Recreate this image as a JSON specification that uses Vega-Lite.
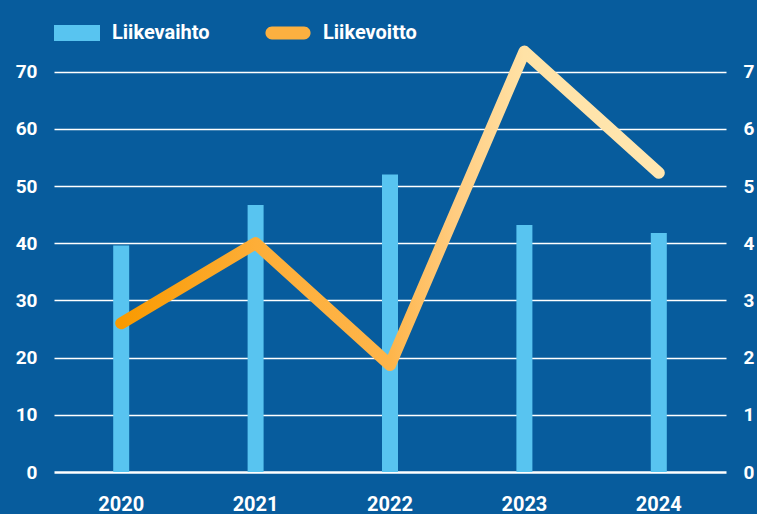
{
  "$schema": "https://vega.github.io/schema/vega-lite/v6.json",
  "autosize": {"type": "none"},
  "width": 672,
  "height": 429,
  "padding": {"left": 54, "top": 43, "right": 31, "bottom": 42},
  "background": "#075c9d",
  "config": {
    "view": {"stroke": null},
    "font": "Roboto",
    "axis": {"labelColor": "white", "labelFont": "Roboto", "labelFontWeight": "bold", "domain": false, "ticks": false, "title": null}
  },
  "data": {
    "values": [
      {"year": "2020", "liikevaihto": 39.6, "liikevoitto": 2.6},
      {"year": "2021", "liikevaihto": 46.7, "liikevoitto": 4.0},
      {"year": "2022", "liikevaihto": 52.0, "liikevoitto": 1.87},
      {"year": "2023", "liikevaihto": 43.2, "liikevoitto": 7.35},
      {"year": "2024", "liikevaihto": 41.8, "liikevoitto": 5.23}
    ]
  },
  "encoding": {
    "x": {
      "field": "year", "type": "ordinal",
      "scale": {"paddingInner": 0, "paddingOuter": 0},
      "axis": {"labelAngle": 0, "labelFontSize": 20, "labelPadding": 22, "grid": false}
    }
  },
  "layer": [
    {
      "mark": {"type": "bar", "width": 16},
      "encoding": {
        "y": {
          "field": "liikevaihto", "type": "quantitative",
          "scale": {"domain": [0, 75], "nice": false},
          "axis": {
            "orient": "left", "values": [0, 10, 20, 30, 40, 50, 60, 70],
            "labelFontSize": 19, "labelPadding": 17,
            "grid": true, "gridColor": "white",
            "gridWidth": {"condition": {"test": "datum.value === 0", "value": 2.5}, "value": 1.5}
          }
        },
        "color": {
          "datum": "Liikevaihto", "type": "nominal",
          "scale": {"domain": ["Liikevaihto", "Liikevoitto"], "range": ["#58c4f0", "#fcb040"]},
          "legend": {
            "orient": "none", "legendX": 0, "legendY": -33, "direction": "horizontal",
            "title": null,
            "labelColor": "white", "labelFont": "Roboto", "labelFontSize": 20, "labelFontWeight": "bold",
            "labelOffset": 12, "symbolSize": 2116, "columnPadding": 55, "symbolStrokeWidth": 0,
            "encode": {
              "symbols": {
                "update": {
                  "shape": [
                    {"test": "datum.value === 'Liikevoitto'", "value": "M-0.7,-0.28H0.7A0.28,0.28 0 0 1 0.7,0.28H-0.7A0.28,0.28 0 0 1 -0.7,-0.28Z"},
                    {"value": "M-1,-0.35H1V0.35H-1Z"}
                  ],
                  "strokeWidth": {"value": 0},
                  "opacity": {"value": 1}
                }
              }
            }
          }
        }
      }
    },
    {
      "mark": {
        "type": "line", "strokeWidth": 12, "strokeCap": "round", "strokeJoin": "round",
        "stroke": {
          "gradient": "linear", "x1": 0, "y1": 0, "x2": 1, "y2": 0,
          "stops": [
            {"offset": 0, "color": "#f99a00"},
            {"offset": 0.25, "color": "#fdae38"},
            {"offset": 0.5, "color": "#feb54a"},
            {"offset": 0.62, "color": "#ffcc80"},
            {"offset": 0.75, "color": "#ffe2a6"},
            {"offset": 1, "color": "#ffe6b0"}
          ]
        }
      },
      "encoding": {
        "y": {
          "field": "liikevoitto", "type": "quantitative",
          "scale": {"domain": [0, 7.5], "nice": false},
          "axis": {"orient": "right", "values": [0, 1, 2, 3, 4, 5, 6, 7], "labelFontSize": 19, "labelPadding": 17, "grid": false}
        }
      }
    }
  ],
  "resolve": {"scale": {"y": "independent"}}
}
